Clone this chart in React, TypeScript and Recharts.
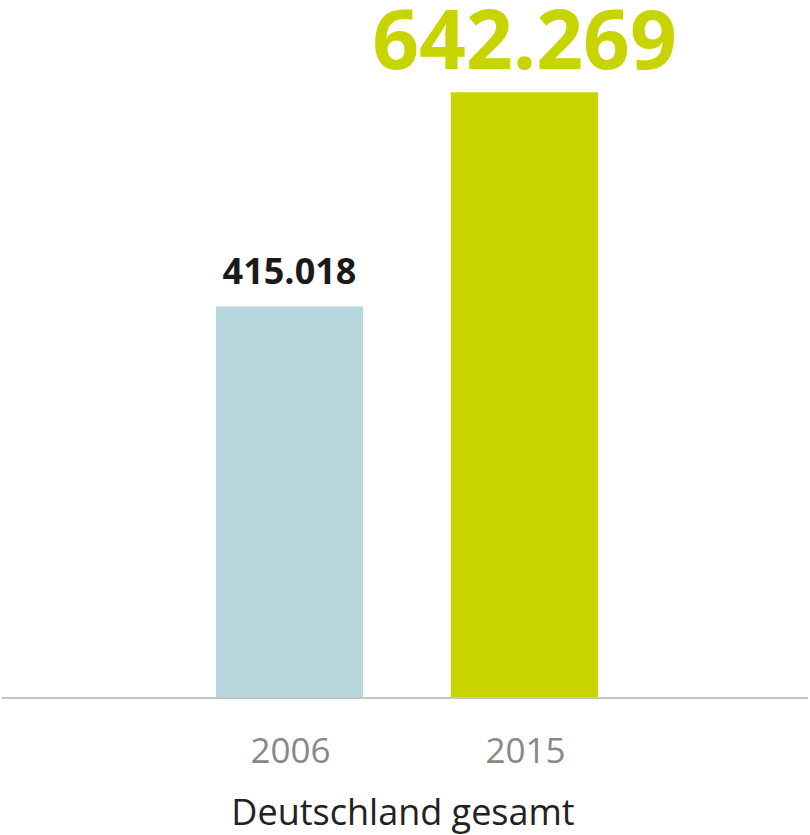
import React from 'react';
import { BarChart, Bar, XAxis, YAxis, Cell, LabelList } from 'recharts';

const years = ['2006', '2015'];
const beschaeftigte = [415018, 642269];
const valueLabels = ['415.018', '642.269'];
const regionTitle = 'Deutschland gesamt';

const data = years.map((y, i) => ({ year: y, value: beschaeftigte[i], label: valueLabels[i] }));

const BAR_COLORS = ['#b7d8df', '#c8d400'];
const FONT = '"Open Sans", "Noto Sans", sans-serif';

const ValueLabel = (props: any) => {
  const { x, y, width, index, value } = props;
  const big = index === 1;
  return (
    <text
      x={x + width / 2}
      y={y - 23}
      textAnchor="middle"
      fontFamily={FONT}
      fontWeight={700}
      fontSize={big ? 82 : 36}
      fill={big ? '#c8d400' : '#1a1a1a'}
    >
      {value}
    </text>
  );
};

const Tick = (props: any) => {
  const { x, y, payload } = props;
  return (
    <text x={x + 1} y={y + 57} textAnchor="middle" fontFamily={FONT} fontSize={35} fill="#888888">
      {payload.value}
    </text>
  );
};

const AxisTitle = (props: any) => {
  const { viewBox } = props;
  return (
    <text
      x={viewBox.x + viewBox.width / 2 - 2}
      y={viewBox.y + 127}
      textAnchor="middle"
      fontFamily={FONT}
      fontSize={36}
      fill="#222222"
    >
      {regionTitle}
    </text>
  );
};

export default function App() {
  return (
    <div style={{ position: 'absolute', left: 0, top: 0, width: 810, height: 835, background: '#fff' }}>
      <BarChart width={810} height={835} data={data} margin={{ top: 0, right: 2, bottom: 0, left: 2 }}>
        <YAxis hide domain={[0, 740000]} />
        <XAxis
          dataKey="year"
          height={137}
          axisLine={{ stroke: '#c4c4c4', strokeWidth: 2 }}
          tickLine={false}
          tick={<Tick />}
          padding={{ left: 170, right: 166 }}
          label={<AxisTitle />}
          interval={0}
        />
        <Bar dataKey="value" barSize={147} isAnimationActive={false}>
          {data.map((d, i) => (
            <Cell key={d.year} fill={BAR_COLORS[i]} />
          ))}
          <LabelList dataKey="label" content={<ValueLabel />} />
        </Bar>
      </BarChart>
    </div>
  );
}
